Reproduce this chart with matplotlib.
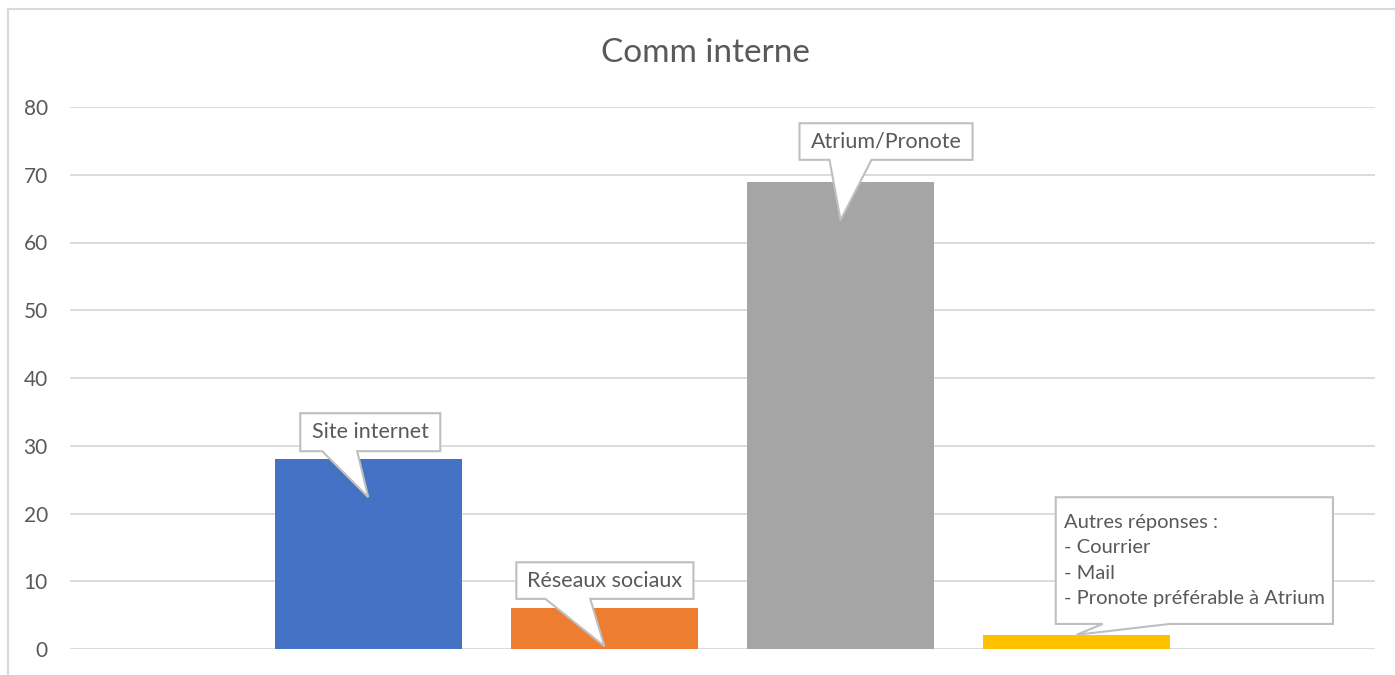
#Graphique "Comm interne" - barres avec bulles de legende

import matplotlib
matplotlib.use("Agg")
import matplotlib.pyplot as plt
from matplotlib.patches import Polygon, Rectangle

plt.rcParams['font.family'] = ['Lato', 'DejaVu Sans']

#Donnees

categories = ["Site internet", "Réseaux sociaux", "Atrium/Pronote", "Autres"]
valeurs = [28, 6, 69, 2]
couleurs = ["#4472C4", "#ED7D31", "#A5A5A5", "#FFC000"]
textes = ["Site internet", "Réseaux sociaux", "Atrium/Pronote",
          "Autres réponses :\n- Courrier\n- Mail\n- Pronote préférable à Atrium"]
yticks = [0, 10, 20, 30, 40, 50, 60, 70, 80]

#Bulles: (gauche, droite, bas, haut) relatif au centre de la barre, base du triangle, pointe y
bulles = [
    (-0.288, 0.305, 29.2, 34.8, -0.195, -0.047, 22.4),
    (-0.373, 0.377, 7.4, 12.8, -0.25, -0.06, 0.4),
    (-0.174, 0.559, 72.2, 77.6, -0.047, 0.131, 63.3),
    (-0.089, 1.085, 3.7, 22.4, 0.11, 0.394, 2.1),
]

gris_txt = "#595959"

fig = plt.figure(figsize=(13.95, 6.75), dpi=100)
ax = fig.add_axes([70/1395, 26/675, 1305/1395, 542/675])

x = list(range(len(valeurs)))
ax.bar(x, valeurs, width=0.79, color=couleurs, zorder=2)

ax.set_xlim(-1.263, 3 + 1.263)
ax.set_ylim(0, 80)
ax.set_yticks(yticks)
ax.set_xticks([])
ax.tick_params(axis='y', length=0, pad=16, labelsize=15, labelcolor=gris_txt)
ax.grid(axis='y', color="#D9D9D9", linewidth=1.3, zorder=0)
for s in ax.spines.values():
    s.set_visible(False)

#Bulles de legende
for i, (g, d, b, h, w1, w2, ty) in enumerate(bulles):
    pts = [(i + g, b), (i + w1, b), (i, ty), (i + w2, b), (i + d, b),
           (i + d, h), (i + g, h)]
    ax.add_patch(Polygon(pts, closed=True, facecolor="white",
                         edgecolor="#BFBFBF", linewidth=1.5, zorder=3))
    if i < 3:
        ax.text(i + (g + d) / 2, (b + h) / 2, textes[i], ha='center', va='center',
                fontsize=15.5, color=gris_txt, zorder=4)
    else:
        ax.text(i + g + 0.035, (b + h) / 2, textes[i], ha='left', va='center',
                fontsize=14.5, color=gris_txt, linespacing=1.6, zorder=4)

fig.text(705/1395, 1 - 53/675, "Comm interne", ha='center', va='center',
         fontsize=24, color=gris_txt)

#Cadre du graphique
fig.add_artist(Rectangle((7.5/1395, -0.1), 1.2, 1 - 8.5/675 + 0.1,
                         transform=fig.transFigure, fill=False,
                         edgecolor="#D9D9D9", linewidth=1.5))

fig.savefig("out.png", dpi=100)
